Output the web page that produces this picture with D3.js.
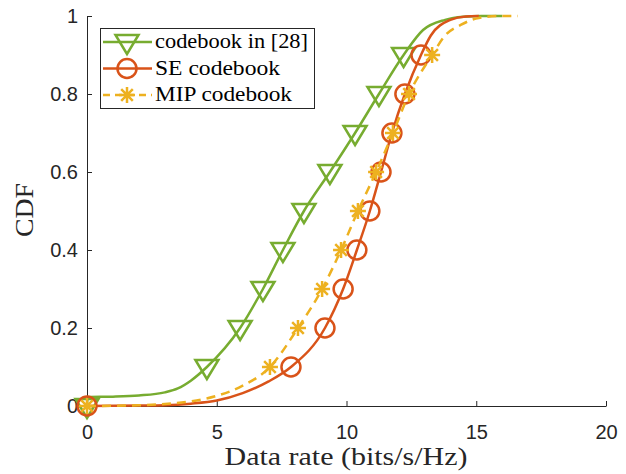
<!DOCTYPE html>
<html>
<head>
<meta charset="UTF-8">
<script src="https://d3js.org/d3.v7.min.js"></script>
<style>
  body { margin: 0; background: #fff; }
</style>
</head>
<body>
<svg id="chart"></svg>
<script>
// marker levels and positions
var levels = [0, 0.1, 0.2, 0.3, 0.4, 0.5, 0.6, 0.7, 0.8, 0.9];
var refX = [0, 4.62, 5.9, 6.78, 7.55, 8.36, 9.36, 10.33, 11.25, 12.2];
var seX  = [0, 7.86, 9.17, 9.87, 10.4, 10.9, 11.33, 11.75, 12.25, 12.87];
var mipX = [0, 7.05, 8.13, 9.06, 9.79, 10.44, 11.14, 11.79, 12.41, 13.3];

// curve samples [rate, cdf]
var refCurve = [[0,0],[0.02,0.023],[1,0.024],[2,0.027],[3,0.035],[3.5,0.045],[4,0.065],[4.62,0.1],[5.9,0.2],[6.78,0.3],[7.55,0.4],[8.36,0.5],[9.36,0.6],[10.33,0.7],[11.25,0.8],[12.2,0.9],[12.95,0.964],[13.8,0.99],[14.5,0.998],[15.2,1],[16,1]];
var seCurve  = [[0,0],[2,0.001],[3,0.002],[4,0.006],[5,0.014],[6,0.033],[7,0.063],[7.86,0.1],[9.17,0.2],[9.87,0.3],[10.4,0.4],[10.9,0.5],[11.33,0.6],[11.75,0.7],[12.25,0.8],[12.87,0.9],[13.25,0.95],[14,0.99],[14.6,0.999],[15.1,1]];
var mipCurve = [[0,0],[2,0.002],[3,0.005],[4,0.012],[5,0.026],[6,0.052],[7.05,0.1],[8.13,0.2],[9.06,0.3],[9.79,0.4],[10.44,0.5],[11.14,0.6],[11.79,0.7],[12.41,0.8],[13.3,0.9],[13.8,0.95],[14.4,0.977],[15.1,0.995],[16,1],[16.6,1]];

var xTicks = [0, 5, 10, 15, 20];
var yTicks = [0, 0.2, 0.4, 0.6, 0.8, 1];

var series = [
  {name: "codebook in [28]", color: "#77AC30", marker: "tri", dash: null, curve: refCurve, mx: refX, tw: 153},
  {name: "SE codebook", color: "#D95319", marker: "circle", dash: null, curve: seCurve, mx: seX, tw: 125},
  {name: "MIP codebook", color: "#EDB120", marker: "star", dash: "9,6", curve: mipCurve, mx: mipX, tw: 137}
];

var width = 626, height = 474;
var svg = d3.select("#chart").attr("width", width).attr("height", height);

var x = d3.scaleLinear().domain([0, 20]).range([87, 606]);
var y = d3.scaleLinear().domain([0, 1]).range([406, 16]);

var axisColor = "#262626";
var serif = "Liberation Serif, Times New Roman, serif";

// axes (MATLAB style: ticks inward)
var gx = svg.append("g").attr("transform", "translate(0,406)")
  .call(d3.axisBottom(x).tickValues(xTicks).tickSizeInner(-5).tickSizeOuter(0).tickPadding(19).tickFormat(d3.format("d")));
var gy = svg.append("g").attr("transform", "translate(87,0)")
  .call(d3.axisLeft(y).tickValues(yTicks).tickSizeInner(-5).tickSizeOuter(0).tickPadding(9).tickFormat(function(d){ return d === 0 || d === 1 ? d : d.toFixed(1); }));
[gx, gy].forEach(function(g) {
  g.selectAll("path, line").attr("stroke", axisColor).attr("stroke-width", 1);
  g.selectAll("text").attr("fill", axisColor).attr("font-family", "Liberation Sans, Arial, sans-serif").attr("font-size", 20);
});

var line = d3.line().x(function(d){ return x(d[0]); }).y(function(d){ return y(d[1]); }).curve(d3.curveMonotoneX);

function drawMarker(g, type, cx, cy, color) {
  if (type === "tri") {
    var hw = 11.5;
    g.append("path").attr("d", "M" + (cx - hw) + "," + (cy - 7) + "L" + (cx + hw) + "," + (cy - 7) + "L" + cx + "," + (cy + 12) + "Z")
      .attr("fill", "none").attr("stroke", color).attr("stroke-width", 2.5).attr("stroke-linejoin", "miter");
  } else if (type === "circle") {
    g.append("circle").attr("cx", cx).attr("cy", cy).attr("r", 9.5)
      .attr("fill", "none").attr("stroke", color).attr("stroke-width", 2.5);
  } else {
    var r = 8, r2 = 5.8;
    g.append("path").attr("d",
      "M" + (cx - r) + "," + cy + "L" + (cx + r) + "," + cy +
      "M" + cx + "," + (cy - r) + "L" + cx + "," + (cy + r) +
      "M" + (cx - r2) + "," + (cy - r2) + "L" + (cx + r2) + "," + (cy + r2) +
      "M" + (cx - r2) + "," + (cy + r2) + "L" + (cx + r2) + "," + (cy - r2))
      .attr("fill", "none").attr("stroke", color).attr("stroke-width", 2.5);
  }
}

series.forEach(function(s) {
  var g = svg.append("g");
  g.append("path").datum(s.curve).attr("d", line)
    .attr("fill", "none").attr("stroke", s.color).attr("stroke-width", 2.5)
    .attr("stroke-dasharray", s.dash);
  s.mx.forEach(function(v, i) {
    drawMarker(g, s.marker, x(v), y(levels[i]), s.color);
  });
});

// axis labels (wide serif like the LaTeX font)
svg.append("text").attr("x", 346).attr("y", 465).attr("text-anchor", "middle")
  .attr("font-family", serif).attr("font-size", 26).attr("fill", axisColor)
  .attr("textLength", 243).attr("lengthAdjust", "spacingAndGlyphs")
  .text("Data rate (bits/s/Hz)");
svg.append("text").attr("transform", "translate(33,210)rotate(-90)").attr("text-anchor", "middle")
  .attr("font-family", serif).attr("font-size", 26).attr("fill", axisColor)
  .attr("textLength", 54).attr("lengthAdjust", "spacingAndGlyphs")
  .text("CDF");

// legend
var leg = svg.append("g");
leg.append("rect").attr("x", 100.5).attr("y", 28.5).attr("width", 214).attr("height", 80)
  .attr("fill", "#fff").attr("stroke", axisColor).attr("stroke-width", 1);
series.forEach(function(s, i) {
  var ly = 42 + i * 26.5;
  leg.append("line").attr("x1", 103).attr("x2", 152).attr("y1", ly).attr("y2", ly)
    .attr("stroke", s.color).attr("stroke-width", 2.5).attr("stroke-dasharray", s.dash ? "7,5" : null);
  drawMarker(leg, s.marker, 127, ly, s.color);
  leg.append("text").attr("x", 155).attr("y", ly + 6).attr("font-family", serif)
    .attr("font-size", 20.5).attr("fill", "#000")
    .attr("textLength", s.tw).attr("lengthAdjust", "spacingAndGlyphs")
    .text(s.name);
});
</script>
</body>
</html>
